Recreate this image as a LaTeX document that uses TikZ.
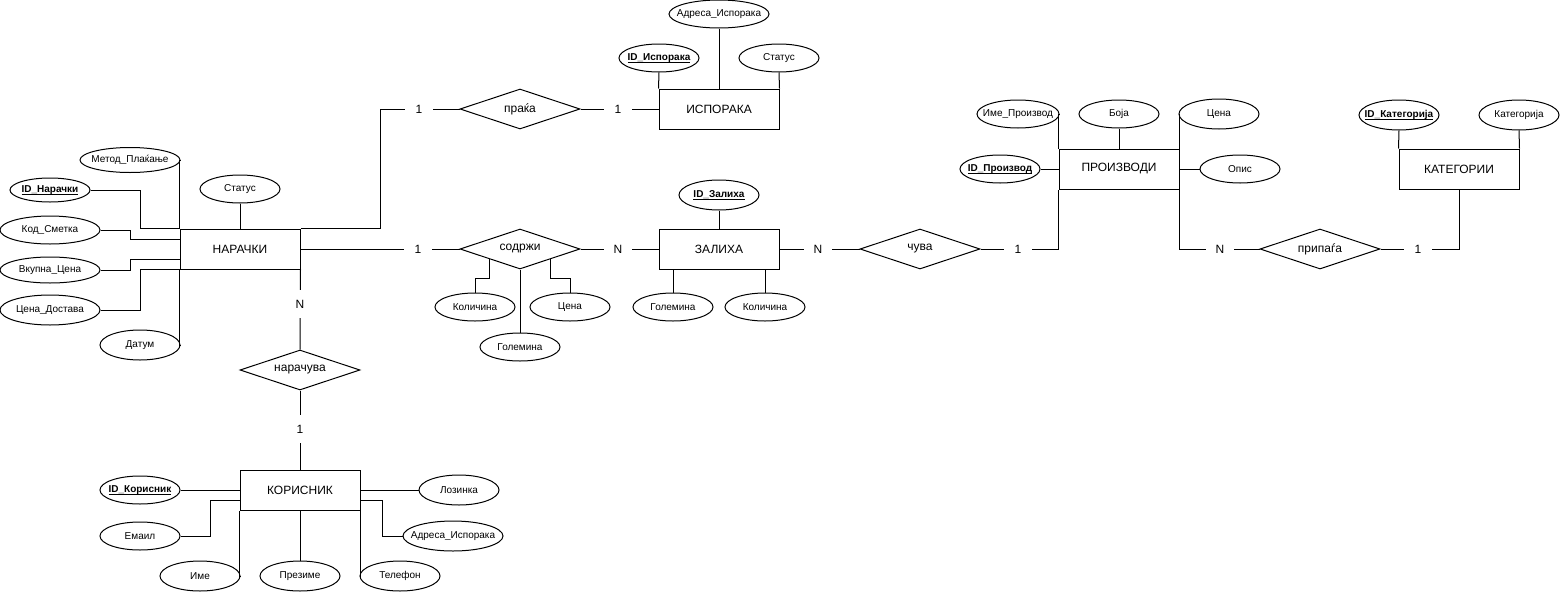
\documentclass[tikz,border=0pt]{standalone}
\usepackage{fontspec}
\setmainfont{Liberation Sans}
\usetikzlibrary{shapes.geometric,calc}
\newcommand\keyattr[1]{\setbox0\hbox{\textbf{#1}}\rlap{\vrule width\wd0 height -1.4pt depth 2.3pt}\box0}
\begin{document}
\begin{tikzpicture}[x=1pt,y=-1pt,
  every node/.style={inner sep=0pt},
  ent/.style={draw, rectangle, minimum width=120pt, minimum height=40pt, font=\fontsize{12}{14}\selectfont},
  rel/.style={draw, diamond, minimum width=120pt, minimum height=40pt},
  rtext/.style={font=\fontsize{12}{14}\selectfont},
  attr/.style={draw, ellipse, minimum width=80pt, minimum height=28pt},
  wide/.style={minimum width=100pt},
  atext/.style={font=\fontsize{10}{12}\selectfont},
  card/.style={fill=white, minimum width=28pt, minimum height=28pt, font=\fontsize{12}{14}\selectfont},
  line width=1pt]
\useasboundingbox (0,0) rectangle (1561,592);

% entities
\node[ent] (nar) at (240,249) {НАРАЧКИ};
\node[ent] (isp) at (719,109) {ИСПОРАКА};
\node[ent] (zal) at (719,249) {ЗАЛИХА};
\node[ent] (proiz) at (1119,169) {ПРОИЗВОДИ};
\node[ent] (kat) at (1459,169) {КАТЕГОРИИ};
\node[ent] (kor) at (300,490) {КОРИСНИК};

% relationships
\node[rel, label={[rtext]center:праќа}] (praka) at (520,109) {};
\node[rel, label={[rtext]center:содржи}] (sodrzi) at (520,249) {};
\node[rel, label={[rtext]center:нарачува}] (naracuva) at (300,370) {};
\node[rel, label={[rtext]center:чува}] (cuva) at (920,249) {};
\node[rel, label={[rtext]center:припаѓа}] (pripaga) at (1320,249) {};

% attributes of НАРАЧКИ
\node[attr, wide, minimum height=25pt, label={[atext]center:Метод\_Плаќање}] (a_metod) at (130,160) {};
\node[attr, minimum height=24pt, label={[atext]center:\keyattr{ID\_Нарачки}}] (a_idnar) at (50,190) {};
\node[attr, label={[atext]center:Статус}] (a_stn) at (240,189) {};
\node[attr, wide, label={[atext]center:Код\_Сметка}] (a_kod) at (50,230) {};
\node[attr, wide, minimum height=26pt, label={[atext]center:Вкупна\_Цена}] (a_vk) at (50,270) {};
\node[attr, wide, minimum height=30pt, label={[atext]center:Цена\_Достава}] (a_cd) at (50,310) {};
\node[attr, minimum height=30pt, label={[atext]center:Датум}] (a_dat) at (140,345) {};

% attributes of ИСПОРАКА
\node[attr, wide, label={[atext]center:Адреса\_Испорака}] (a_adri) at (719,14) {};
\node[attr, label={[atext]center:\keyattr{ID\_Испорака}}] (a_idi) at (659,58) {};
\node[attr, label={[atext]center:Статус}] (a_sti) at (779,58) {};

% attributes of содржи
\node[attr, label={[atext]center:Количина}] (a_kols) at (475,307) {};
\node[attr, label={[atext]center:Цена}] (a_cenas) at (570,307) {};
\node[attr, label={[atext]center:Големина}] (a_gols) at (520,347) {};

% attributes of ЗАЛИХА
\node[attr, minimum height=30pt, label={[atext]center:\keyattr{ID\_Залиха}}] (a_idz) at (719,195) {};
\node[attr, label={[atext]center:Големина}] (a_golz) at (673,307) {};
\node[attr, label={[atext]center:Количина}] (a_kolz) at (765,307) {};

% attributes of ПРОИЗВОДИ
\node[attr, minimum width=82pt, label={[atext]center:Име\_Производ}] (a_imep) at (1018,114) {};
\node[attr, label={[atext]center:Боја}] (a_boja) at (1119,114) {};
\node[attr, label={[atext]center:\keyattr{ID\_Производ}}] (a_idp) at (1000,169) {};
\node[attr, minimum height=30pt, label={[atext]center:Цена}] (a_cenap) at (1219,114) {};
\node[attr, label={[atext]center:Опис}] (a_opis) at (1240,169) {};

% attributes of КАТЕГОРИИ
\node[attr, minimum height=30pt, label={[atext]center:\keyattr{ID\_Категорија}}] (a_idk) at (1399,115) {};
\node[attr, minimum height=30pt, label={[atext]center:Категорија}] (a_kat) at (1519,115) {};

% attributes of КОРИСНИК
\node[attr, label={[atext]center:\keyattr{ID\_Корисник}}] (a_idkor) at (140,490) {};
\node[attr, label={[atext]center:Емаил}] (a_email) at (140,536) {};
\node[attr, minimum height=30pt, label={[atext]center:Име}] (a_ime) at (200,576) {};
\node[attr, minimum height=30pt, label={[atext]center:Презиме}] (a_prez) at (300,576) {};
\node[attr, minimum height=30pt, label={[atext]center:Телефон}] (a_tel) at (400,576) {};
\node[attr, minimum height=30pt, label={[atext]center:Лозинка}] (a_loz) at (459,490) {};
\node[attr, wide, minimum height=30pt, label={[atext]center:Адреса\_Испорака}] (a_adrk) at (453,536) {};

% attribute connectors НАРАЧКИ
\draw (a_metod.east) -| (nar.north west);
\draw (a_idnar.east) -- ++(50,0) |- (nar.north west);
\draw (a_stn.south) -- (nar.north);
\draw (a_kod.east) -- ++(30,0) |- ($(nar.west)+(0,-10)$);
\draw (a_vk.east) -- ++(30,0) |- ($(nar.west)+(0,10)$);
\draw (a_cd.east) -- ++(40,0) |- (nar.south west);
\draw (a_dat.east) -| (nar.south west);

% ИСПОРАКА
\draw (a_adri.south) -- (isp.north);
\draw (a_idi.south) -- (isp.north west);
\draw (a_sti.south) -- (isp.north east);

% содржи
\draw (a_kols.north) -- ++(0,-14) -| (sodrzi.south west);
\draw (a_cenas.north) -- ++(0,-14) -| (sodrzi.south east);
\draw (a_gols.north) -- (sodrzi.south);

% ЗАЛИХА
\draw (a_idz.south) -- (zal.north);
\draw (a_golz.north) -- (a_golz.north |- zal.south);
\draw (a_kolz.north) -- (a_kolz.north |- zal.south);

% ПРОИЗВОДИ
\draw (a_imep.east) -| (proiz.north west);
\draw (a_boja.south) -- (proiz.north);
\draw (a_idp.east) -- (proiz.west);
\draw (a_cenap.west) -| (proiz.north east);
\draw (a_opis.west) -- (proiz.east);

% КАТЕГОРИИ
\draw (a_idk.south) -- (kat.north west);
\draw (a_kat.south) -- (kat.north east);

% КОРИСНИК
\draw (a_idkor.east) -- (kor.west);
\draw (a_email.east) -- ++(30,0) |- ($(kor.west)+(0,10)$);
\draw (a_ime.east) -| (kor.south west);
\draw (a_prez.north) -- (kor.south);
\draw (a_tel.west) -| (kor.south east);
\draw (a_loz.west) -- (kor.east);
\draw ($(kor.east)+(0,10)$) -- ++(22,0) |- (a_adrk.west);

% relationship connectors
\draw (nar.north east) -- ++(80,0) |- (praka.west);
\draw (praka.east) -- (isp.west);
\draw (nar.east) -- (sodrzi.west);
\draw (sodrzi.east) -- (zal.west);
\draw (nar.south east) -- (naracuva.north);
\draw (naracuva.south) -- (kor.north);
\draw (zal.east) -- (cuva.west);
\draw (cuva.east) -| (proiz.south west);
\draw (proiz.south east) |- (pripaga.west);
\draw (pripaga.east) -| (kat.south);

% cardinalities
\node[card] (c1) at (419,109) {1};
\node[card] (c2) at (618,109) {1};
\node[card] (c3) at (418,249) {1};
\node[card] (c4) at (618,249) {N};
\node[card] (c5) at (300,304) {N};
\node[card] (c6) at (300,429) {1};
\node[card] (c7) at (818,249) {N};
\node[card] (c8) at (1018,249) {1};
\node[card] (c9) at (1220,249) {N};
\node[card] (c10) at (1418,249) {1};
\end{tikzpicture}
\end{document}
